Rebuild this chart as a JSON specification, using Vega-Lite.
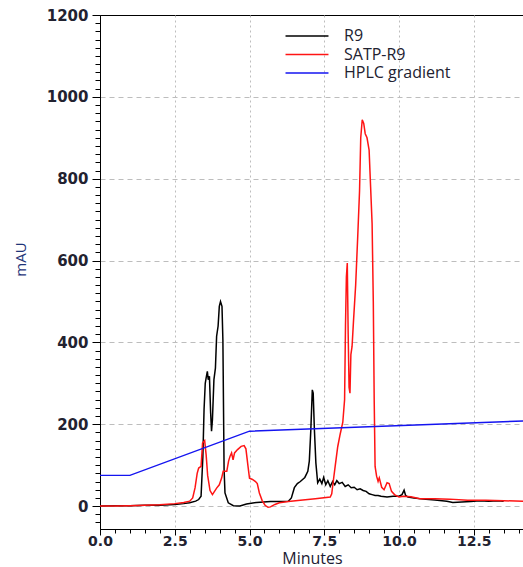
{
  "$schema": "https://vega.github.io/schema/vega-lite/v6.json",
  "width": 424,
  "height": 514,
  "autosize": "none",
  "padding": {"left": 100, "top": 15, "right": 0, "bottom": 38},
  "background": "white",
  "config": {"view": {"stroke": "#000000", "strokeWidth": 1}, "font": "DejaVu Sans"},
  "datasets": {
    "traces": [
      {"trace": "R9", "min": 0, "mAU": 0}, {"trace": "R9", "min": 0.5, "mAU": 1}, {"trace": "R9", "min": 1, "mAU": 1},
      {"trace": "R9", "min": 1.5, "mAU": 2}, {"trace": "R9", "min": 2, "mAU": 2}, {"trace": "R9", "min": 2.5, "mAU": 4},
      {"trace": "R9", "min": 2.8, "mAU": 6}, {"trace": "R9", "min": 3, "mAU": 8}, {"trace": "R9", "min": 3.2, "mAU": 12},
      {"trace": "R9", "min": 3.3, "mAU": 16}, {"trace": "R9", "min": 3.38, "mAU": 24}, {"trace": "R9", "min": 3.44, "mAU": 120},
      {"trace": "R9", "min": 3.48, "mAU": 236}, {"trace": "R9", "min": 3.52, "mAU": 300}, {"trace": "R9", "min": 3.55, "mAU": 313},
      {"trace": "R9", "min": 3.59, "mAU": 329}, {"trace": "R9", "min": 3.62, "mAU": 309}, {"trace": "R9", "min": 3.66, "mAU": 317},
      {"trace": "R9", "min": 3.7, "mAU": 228}, {"trace": "R9", "min": 3.73, "mAU": 183}, {"trace": "R9", "min": 3.76, "mAU": 211},
      {"trace": "R9", "min": 3.81, "mAU": 309}, {"trace": "R9", "min": 3.86, "mAU": 337}, {"trace": "R9", "min": 3.9, "mAU": 415},
      {"trace": "R9", "min": 3.95, "mAU": 440}, {"trace": "R9", "min": 3.99, "mAU": 488}, {"trace": "R9", "min": 4.03, "mAU": 500},
      {"trace": "R9", "min": 4.08, "mAU": 488}, {"trace": "R9", "min": 4.11, "mAU": 406}, {"trace": "R9", "min": 4.15, "mAU": 89},
      {"trace": "R9", "min": 4.18, "mAU": 32}, {"trace": "R9", "min": 4.29, "mAU": 8}, {"trace": "R9", "min": 4.46, "mAU": 1},
      {"trace": "R9", "min": 4.68, "mAU": 0}, {"trace": "R9", "min": 4.9, "mAU": 5}, {"trace": "R9", "min": 5.24, "mAU": 9},
      {"trace": "R9", "min": 5.7, "mAU": 11}, {"trace": "R9", "min": 6, "mAU": 11}, {"trace": "R9", "min": 6.3, "mAU": 12},
      {"trace": "R9", "min": 6.4, "mAU": 20}, {"trace": "R9", "min": 6.5, "mAU": 45}, {"trace": "R9", "min": 6.6, "mAU": 55},
      {"trace": "R9", "min": 6.7, "mAU": 60}, {"trace": "R9", "min": 6.85, "mAU": 70}, {"trace": "R9", "min": 6.95, "mAU": 85},
      {"trace": "R9", "min": 7, "mAU": 110}, {"trace": "R9", "min": 7.05, "mAU": 185}, {"trace": "R9", "min": 7.1, "mAU": 284},
      {"trace": "R9", "min": 7.13, "mAU": 276}, {"trace": "R9", "min": 7.17, "mAU": 187}, {"trace": "R9", "min": 7.22, "mAU": 105},
      {"trace": "R9", "min": 7.28, "mAU": 57}, {"trace": "R9", "min": 7.35, "mAU": 66}, {"trace": "R9", "min": 7.42, "mAU": 55},
      {"trace": "R9", "min": 7.48, "mAU": 70}, {"trace": "R9", "min": 7.55, "mAU": 52}, {"trace": "R9", "min": 7.62, "mAU": 62},
      {"trace": "R9", "min": 7.7, "mAU": 48}, {"trace": "R9", "min": 7.78, "mAU": 60}, {"trace": "R9", "min": 7.85, "mAU": 52},
      {"trace": "R9", "min": 7.92, "mAU": 62}, {"trace": "R9", "min": 8, "mAU": 55}, {"trace": "R9", "min": 8.1, "mAU": 58},
      {"trace": "R9", "min": 8.2, "mAU": 48}, {"trace": "R9", "min": 8.3, "mAU": 52}, {"trace": "R9", "min": 8.4, "mAU": 45},
      {"trace": "R9", "min": 8.5, "mAU": 46}, {"trace": "R9", "min": 8.6, "mAU": 40}, {"trace": "R9", "min": 8.7, "mAU": 42},
      {"trace": "R9", "min": 8.8, "mAU": 38}, {"trace": "R9", "min": 8.9, "mAU": 36}, {"trace": "R9", "min": 9, "mAU": 30},
      {"trace": "R9", "min": 9.1, "mAU": 28}, {"trace": "R9", "min": 9.2, "mAU": 26}, {"trace": "R9", "min": 9.3, "mAU": 26},
      {"trace": "R9", "min": 9.4, "mAU": 24}, {"trace": "R9", "min": 9.6, "mAU": 22}, {"trace": "R9", "min": 9.8, "mAU": 24},
      {"trace": "R9", "min": 10, "mAU": 24}, {"trace": "R9", "min": 10.1, "mAU": 28}, {"trace": "R9", "min": 10.17, "mAU": 39},
      {"trace": "R9", "min": 10.22, "mAU": 26}, {"trace": "R9", "min": 10.3, "mAU": 22}, {"trace": "R9", "min": 10.5, "mAU": 20},
      {"trace": "R9", "min": 10.8, "mAU": 17}, {"trace": "R9", "min": 11.2, "mAU": 15}, {"trace": "R9", "min": 11.6, "mAU": 12},
      {"trace": "R9", "min": 11.8, "mAU": 9}, {"trace": "R9", "min": 12.1, "mAU": 10}, {"trace": "R9", "min": 12.4, "mAU": 11},
      {"trace": "R9", "min": 12.7, "mAU": 13}, {"trace": "R9", "min": 13, "mAU": 12}, {"trace": "R9", "min": 13.3, "mAU": 13},
      {"trace": "R9", "min": 13.5, "mAU": 12},

      {"trace": "SATP-R9", "min": 0, "mAU": 0}, {"trace": "SATP-R9", "min": 0.5, "mAU": 0}, {"trace": "SATP-R9", "min": 1, "mAU": 1},
      {"trace": "SATP-R9", "min": 1.5, "mAU": 2}, {"trace": "SATP-R9", "min": 2, "mAU": 3}, {"trace": "SATP-R9", "min": 2.5, "mAU": 6},
      {"trace": "SATP-R9", "min": 2.8, "mAU": 9}, {"trace": "SATP-R9", "min": 3, "mAU": 12}, {"trace": "SATP-R9", "min": 3.1, "mAU": 20},
      {"trace": "SATP-R9", "min": 3.18, "mAU": 45}, {"trace": "SATP-R9", "min": 3.25, "mAU": 80}, {"trace": "SATP-R9", "min": 3.3, "mAU": 93},
      {"trace": "SATP-R9", "min": 3.38, "mAU": 97}, {"trace": "SATP-R9", "min": 3.43, "mAU": 154}, {"trace": "SATP-R9", "min": 3.5, "mAU": 160},
      {"trace": "SATP-R9", "min": 3.55, "mAU": 125}, {"trace": "SATP-R9", "min": 3.6, "mAU": 75}, {"trace": "SATP-R9", "min": 3.68, "mAU": 38},
      {"trace": "SATP-R9", "min": 3.76, "mAU": 28}, {"trace": "SATP-R9", "min": 3.9, "mAU": 44}, {"trace": "SATP-R9", "min": 3.99, "mAU": 52},
      {"trace": "SATP-R9", "min": 4.07, "mAU": 69}, {"trace": "SATP-R9", "min": 4.12, "mAU": 85}, {"trace": "SATP-R9", "min": 4.24, "mAU": 85},
      {"trace": "SATP-R9", "min": 4.3, "mAU": 110}, {"trace": "SATP-R9", "min": 4.35, "mAU": 122}, {"trace": "SATP-R9", "min": 4.4, "mAU": 130},
      {"trace": "SATP-R9", "min": 4.45, "mAU": 113}, {"trace": "SATP-R9", "min": 4.5, "mAU": 130}, {"trace": "SATP-R9", "min": 4.6, "mAU": 138},
      {"trace": "SATP-R9", "min": 4.72, "mAU": 146}, {"trace": "SATP-R9", "min": 4.82, "mAU": 148}, {"trace": "SATP-R9", "min": 4.88, "mAU": 140},
      {"trace": "SATP-R9", "min": 4.95, "mAU": 97}, {"trace": "SATP-R9", "min": 5, "mAU": 68}, {"trace": "SATP-R9", "min": 5.1, "mAU": 65},
      {"trace": "SATP-R9", "min": 5.2, "mAU": 60}, {"trace": "SATP-R9", "min": 5.26, "mAU": 55}, {"trace": "SATP-R9", "min": 5.33, "mAU": 32},
      {"trace": "SATP-R9", "min": 5.42, "mAU": 14}, {"trace": "SATP-R9", "min": 5.52, "mAU": 2}, {"trace": "SATP-R9", "min": 5.62, "mAU": -3},
      {"trace": "SATP-R9", "min": 5.7, "mAU": -2}, {"trace": "SATP-R9", "min": 5.85, "mAU": 4}, {"trace": "SATP-R9", "min": 6, "mAU": 8},
      {"trace": "SATP-R9", "min": 6.3, "mAU": 11}, {"trace": "SATP-R9", "min": 6.7, "mAU": 14}, {"trace": "SATP-R9", "min": 7.2, "mAU": 18},
      {"trace": "SATP-R9", "min": 7.7, "mAU": 22}, {"trace": "SATP-R9", "min": 7.75, "mAU": 30}, {"trace": "SATP-R9", "min": 7.8, "mAU": 60},
      {"trace": "SATP-R9", "min": 7.87, "mAU": 100}, {"trace": "SATP-R9", "min": 7.95, "mAU": 145}, {"trace": "SATP-R9", "min": 8.03, "mAU": 175},
      {"trace": "SATP-R9", "min": 8.12, "mAU": 205}, {"trace": "SATP-R9", "min": 8.18, "mAU": 260}, {"trace": "SATP-R9", "min": 8.21, "mAU": 440},
      {"trace": "SATP-R9", "min": 8.24, "mAU": 560}, {"trace": "SATP-R9", "min": 8.27, "mAU": 594}, {"trace": "SATP-R9", "min": 8.3, "mAU": 420},
      {"trace": "SATP-R9", "min": 8.33, "mAU": 290}, {"trace": "SATP-R9", "min": 8.36, "mAU": 276}, {"trace": "SATP-R9", "min": 8.39, "mAU": 370},
      {"trace": "SATP-R9", "min": 8.43, "mAU": 390}, {"trace": "SATP-R9", "min": 8.48, "mAU": 455}, {"trace": "SATP-R9", "min": 8.55, "mAU": 540},
      {"trace": "SATP-R9", "min": 8.62, "mAU": 660}, {"trace": "SATP-R9", "min": 8.68, "mAU": 770}, {"trace": "SATP-R9", "min": 8.72, "mAU": 900},
      {"trace": "SATP-R9", "min": 8.77, "mAU": 944}, {"trace": "SATP-R9", "min": 8.82, "mAU": 935}, {"trace": "SATP-R9", "min": 8.87, "mAU": 910},
      {"trace": "SATP-R9", "min": 8.93, "mAU": 900}, {"trace": "SATP-R9", "min": 9, "mAU": 870}, {"trace": "SATP-R9", "min": 9.05, "mAU": 780},
      {"trace": "SATP-R9", "min": 9.1, "mAU": 690}, {"trace": "SATP-R9", "min": 9.14, "mAU": 500}, {"trace": "SATP-R9", "min": 9.17, "mAU": 260},
      {"trace": "SATP-R9", "min": 9.2, "mAU": 97}, {"trace": "SATP-R9", "min": 9.25, "mAU": 73}, {"trace": "SATP-R9", "min": 9.3, "mAU": 60},
      {"trace": "SATP-R9", "min": 9.34, "mAU": 69}, {"trace": "SATP-R9", "min": 9.42, "mAU": 46}, {"trace": "SATP-R9", "min": 9.5, "mAU": 40},
      {"trace": "SATP-R9", "min": 9.6, "mAU": 57}, {"trace": "SATP-R9", "min": 9.67, "mAU": 55}, {"trace": "SATP-R9", "min": 9.75, "mAU": 36},
      {"trace": "SATP-R9", "min": 9.85, "mAU": 28}, {"trace": "SATP-R9", "min": 10, "mAU": 22}, {"trace": "SATP-R9", "min": 10.15, "mAU": 24},
      {"trace": "SATP-R9", "min": 10.4, "mAU": 23}, {"trace": "SATP-R9", "min": 10.7, "mAU": 18}, {"trace": "SATP-R9", "min": 11.2, "mAU": 18},
      {"trace": "SATP-R9", "min": 11.7, "mAU": 17}, {"trace": "SATP-R9", "min": 12.3, "mAU": 14}, {"trace": "SATP-R9", "min": 12.9, "mAU": 14},
      {"trace": "SATP-R9", "min": 13.5, "mAU": 13}, {"trace": "SATP-R9", "min": 14.18, "mAU": 12},

      {"trace": "HPLC gradient", "min": 0, "mAU": 75}, {"trace": "HPLC gradient", "min": 1, "mAU": 75},
      {"trace": "HPLC gradient", "min": 5, "mAU": 183}, {"trace": "HPLC gradient", "min": 14.18, "mAU": 208}
    ]
  },
  "data": {"name": "traces"},
  "encoding": {
    "x": {
      "field": "min",
      "type": "quantitative",
      "scale": {"domain": [0, 14.18], "nice": false, "zero": false},
      "axis": {
        "title": "Minutes",
        "titleFont": "Open Sans",
        "titleFontSize": 16,
        "titleFontWeight": "normal",
        "titleColor": "#1c2033",
        "titleY": 34,
        "titleBaseline": "alphabetic",
        "values": [0, 0.5, 1, 1.5, 2, 2.5, 3, 3.5, 4, 4.5, 5, 5.5, 6, 6.5, 7, 7.5, 8, 8.5, 9, 9.5, 10, 10.5, 11, 11.5, 12, 12.5, 13, 13.5, 14],
        "labelExpr": "datum.value % 2.5 === 0 ? format(datum.value, '.1f') : ''",
        "labelFont": "DejaVu Sans",
        "labelFontSize": 14,
        "labelFontWeight": "bold",
        "labelColor": "#222230",
        "labelPadding": -1,
        "labelFlush": false,
        "labelOverlap": false,
        "labelBound": false,
        "domain": true,
        "domainColor": "#000000",
        "domainWidth": 1,
        "ticks": true,
        "tickColor": "#000000",
        "tickWidth": 1,
        "tickSize": {"condition": {"test": "datum.value % 2.5 === 0", "value": 6}, "value": 4},
        "grid": true,
        "gridColor": "#bdbdbd",
        "gridDash": [2, 3],
        "gridOpacity": {"condition": {"test": "datum.value % 2.5 === 0 && datum.value > 0", "value": 1}, "value": 0}
      }
    },
    "y": {
      "field": "mAU",
      "type": "quantitative",
      "scale": {"domain": [-56, 1200], "nice": false, "zero": false},
      "axis": {
        "title": "mAU",
        "titleFont": "Open Sans",
        "titleFontSize": 15,
        "titleFontWeight": "normal",
        "titleColor": "#1f3578",
        "titleX": -75,
        "titleY": 244,
        "titleAlign": "center",
        "titleBaseline": "alphabetic",
        "values": [-40, -20, 0, 20, 40, 60, 80, 100, 120, 140, 160, 180, 200, 220, 240, 260, 280, 300, 320, 340, 360, 380, 400, 420, 440, 460, 480, 500, 520, 540, 560, 580, 600, 620, 640, 660, 680, 700, 720, 740, 760, 780, 800, 820, 840, 860, 880, 900, 920, 940, 960, 980, 1000, 1020, 1040, 1060, 1080, 1100, 1120, 1140, 1160, 1180, 1200],
        "labelExpr": "datum.value % 200 === 0 ? format(datum.value, 'd') : ''",
        "labelFont": "DejaVu Sans",
        "labelFontSize": 15,
        "labelFontWeight": "bold",
        "labelColor": "#222230",
        "labelPadding": 4,
        "labelFlush": false,
        "labelOverlap": false,
        "labelBound": false,
        "domain": true,
        "domainColor": "#000000",
        "domainWidth": 1,
        "ticks": true,
        "tickColor": "#000000",
        "tickWidth": 1,
        "tickSize": {"condition": {"test": "datum.value % 200 === 0", "value": 8}, "value": 5},
        "grid": true,
        "gridColor": "#bdbdbd",
        "gridDash": [5, 4],
        "gridOpacity": {"condition": {"test": "datum.value % 200 === 0 && datum.value < 1200", "value": 1}, "value": 0}
      }
    },
    "color": {
      "field": "trace",
      "type": "nominal",
      "scale": {"domain": ["R9", "SATP-R9", "HPLC gradient"], "range": ["#000000", "#ff1414", "#1414f0"]},
      "legend": {
        "orient": "none",
        "legendX": 199,
        "legendY": 13,
        "title": null,
        "padding": 0,
        "symbolType": "M-3,0H3",
        "symbolSize": 205,
        "symbolStrokeWidth": 1.6,
        "labelFont": "Open Sans",
        "labelFontSize": 16,
        "labelColor": "#222230",
        "labelOffset": 29,
        "rowPadding": 2.5
      }
    }
  },
  "layer": [
    {
      "transform": [{"filter": "datum.trace === 'R9'"}],
      "mark": {"type": "line", "strokeWidth": 1.5}
    },
    {
      "transform": [{"filter": "datum.trace === 'SATP-R9'"}],
      "mark": {"type": "line", "strokeWidth": 1.5}
    },
    {
      "transform": [{"filter": "datum.trace === 'HPLC gradient'"}],
      "mark": {"type": "line", "strokeWidth": 1.4}
    }
  ]
}
